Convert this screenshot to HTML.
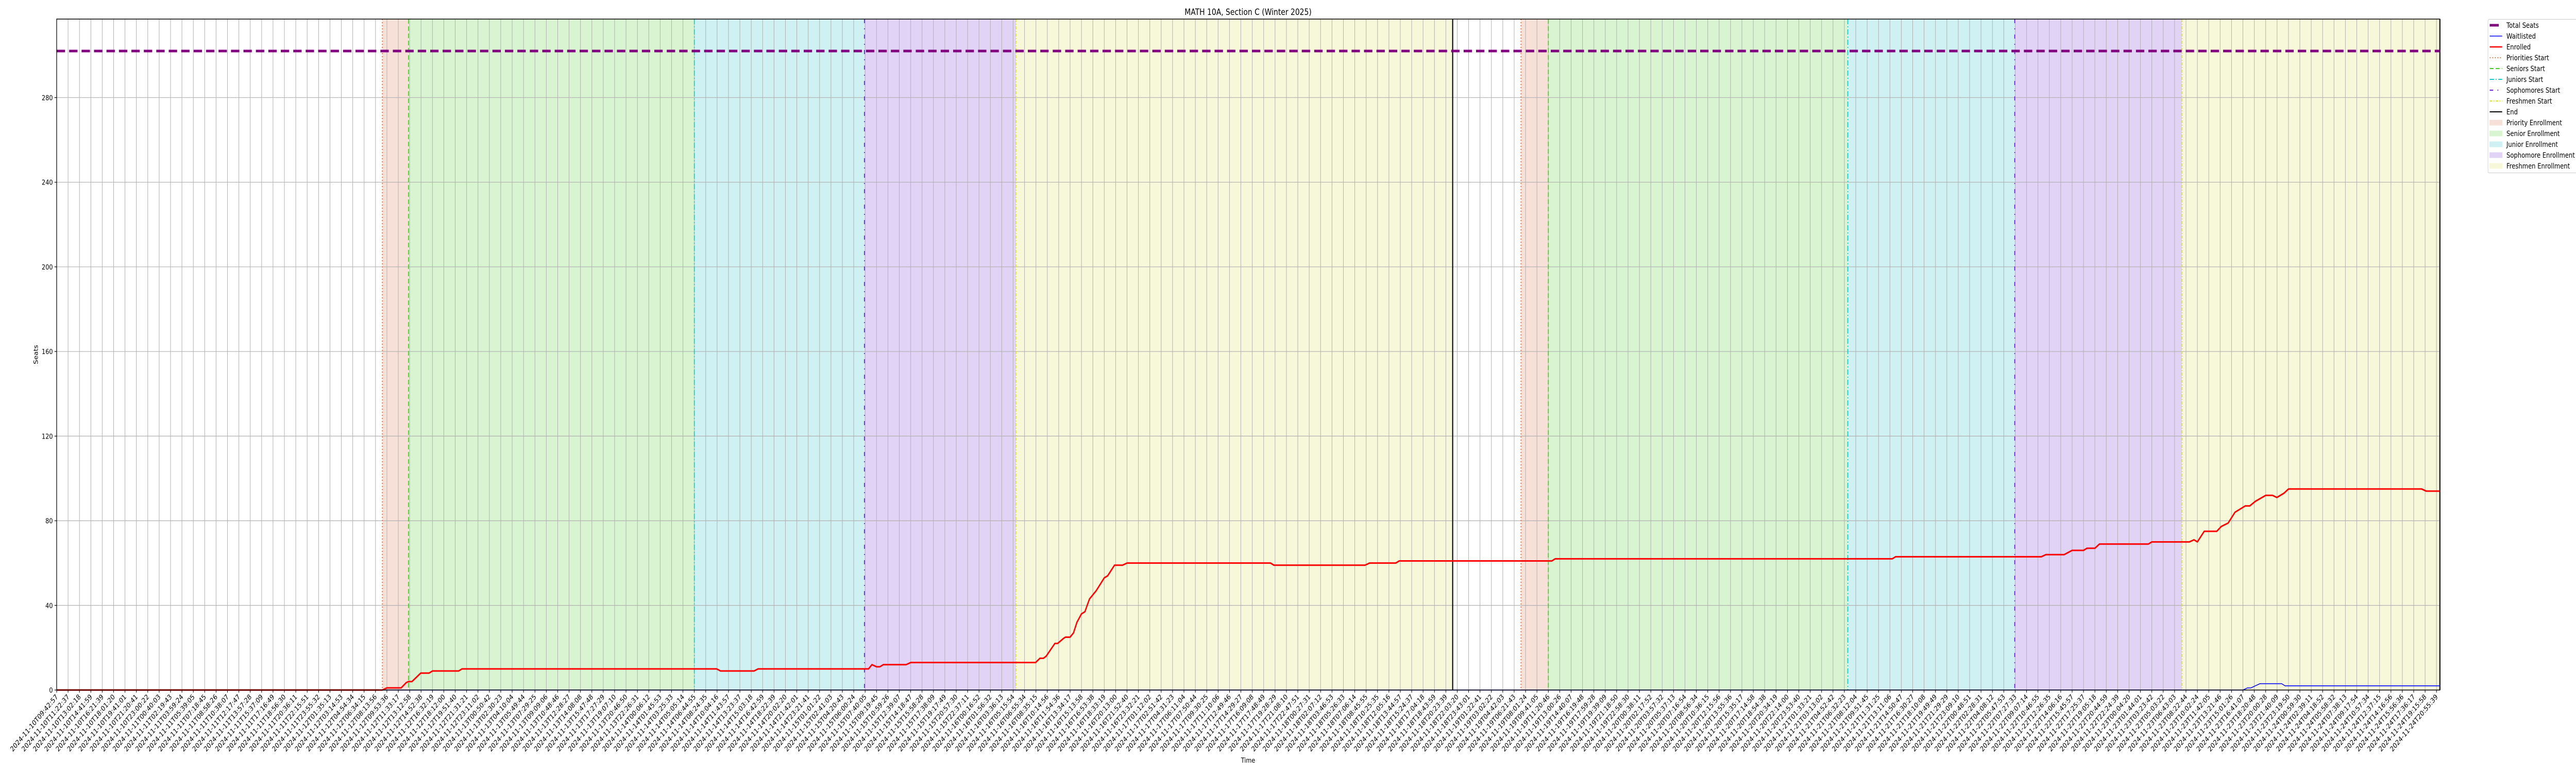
<!DOCTYPE html>
<html><head><meta charset="utf-8"><title>MATH 10A, Section C (Winter 2025)</title>
<style>
html,body{margin:0;padding:0;background:#fff;width:100%;height:100%;overflow:hidden;}
svg{display:block;width:100vw;height:100vh;font-family:"DejaVu Sans","Liberation Sans",sans-serif;}
</style></head>
<body>
<svg id="chart" viewBox="0 0 6000 1500" preserveAspectRatio="none" xmlns="http://www.w3.org/2000/svg">
<rect x="0" y="0" width="6000" height="1500" fill="#fff"/>
<text x="2907" y="29" font-size="16.7" text-anchor="middle">MATH 10A, Section C (Winter 2025)</text>
<g id="fills"></g><g id="grid"></g><g id="vlines"></g><g id="series"></g><g id="axes"></g>
<text x="88" y="688" font-size="13.5" text-anchor="middle" transform="rotate(-90 88 688)">Seats</text>
<text x="2907" y="1480" font-size="13.5" text-anchor="middle">Time</text>
<g id="legend"></g>
</svg>
<script>
// ---- data (x in tick-index units) ----
const startTime = "2024-11-10T09:42:57";
const endTime = "2024-11-24T20:55:39";
const tickCount = 210;
const yTicks = [0, 40, 80, 120, 160, 200, 240, 280];
const totalSeats = 302;
const enrolledX = [0, 28.6, 29.0, 30.25, 30.7, 30.9, 31.2, 31.97, 32.7, 33.0, 35.3, 35.6, 57.96, 58.3, 61.25, 61.6, 71.3, 71.6, 72.0, 72.3, 72.6, 74.6, 75.0, 85.97, 86.35, 86.66, 86.9, 87.66, 87.9, 88.4, 88.6, 89.0, 89.3, 89.6, 90.0, 90.3, 90.7, 91.3, 92.0, 92.3, 92.9, 93.6, 94.0, 106.6, 106.9, 114.9, 115.3, 117.6, 117.9, 131.3, 131.6, 161.2, 161.5, 174.3, 174.7, 176.3, 177.0, 178.0, 178.3, 179.0, 179.4, 183.7, 184.0, 187.3, 187.7, 188.0, 188.6, 189.7, 190.1, 190.7, 191.3, 192.2, 192.6, 193.1, 194.0, 194.6, 194.98, 195.6, 196.0, 207.7, 208.1, 209.3];
const enrolledVals = [0, 0, 1, 1, 3.5, 4, 4, 8, 8, 9, 9, 10, 10, 9, 9, 10, 10, 12, 11, 11, 12, 12, 13, 13, 15, 15, 16, 22, 22, 24.3, 25, 25, 27, 32, 36, 37, 43, 47, 53, 54, 59, 59, 60, 60, 59, 59, 60, 60, 61, 61, 62, 62, 63, 63, 64, 64, 66, 66, 67, 67, 69, 69, 70, 70, 71, 70, 75, 75, 77.3, 78.9, 84, 87, 87, 89.2, 92, 92, 91, 93, 95, 95, 94, 94];
const waitX = [0, 192.0, 192.4, 192.7, 193.1, 193.5, 195.4, 195.7, 209.3];
const waitVals = [0, 0, 1, 1, 2, 3, 3, 2, 2];
const phaseNames = ["Priority", "Senior", "Junior", "Sophomore", "Freshmen"];
const pass1Starts = [28.6, 30.9, 56.0, 70.94, 84.25];
const pass1End = 122.6;
const pass2Starts = [128.6, 131.0, 157.3, 171.96, 186.65];
const pass2End = 209.3;

// ---- styles ----
const fillColors = ["#f7e0d7", "#d9f4d1", "#cff1f3", "#e1d3f5", "#f7f8da"];
const lineColors = ["#f2692e", "#44cc22", "#10c8d0", "#6a22e0", "#e0e030"];
const lineDash = ["2,4", "9,5", "10,4,2,4", "8,10,2,10", "6,3,2,3"];
const PL = 132, PR = 5683, PT = 37, PB = 1339, XMAX = 209.3, YMAX = 317.1;
const sx = v => PL + v * (PR - PL) / XMAX;
const sy = v => PB - v * (PB - PT) / YMAX;
const NS = "http://www.w3.org/2000/svg";
function mk(tag, attrs, parent) {
  const e = document.createElementNS(NS, tag);
  for (const k in attrs) e.setAttribute(k, attrs[k]);
  parent.appendChild(e); return e;
}
const G = id => document.getElementById(id);

// fills
[[pass1Starts, pass1End], [pass2Starts, pass2End]].forEach(([st, en], p) => {
  st.forEach((s, i) => {
    const e = i < st.length - 1 ? st[i + 1] : en;
    const r = mk("rect", {x: sx(s), y: PT, width: sx(e) - sx(s), height: PB - PT, fill: fillColors[i]}, G("fills"));
    
    
  });
});

// grid
for (let i = 0; i < tickCount; i++) {
  const l = mk("line", {x1: sx(i), x2: sx(i), y1: PT, y2: PB, stroke: "#b0b0b0", "stroke-width": 1.2}, G("grid"));
  
  
}
yTicks.forEach(v => {
  const l = mk("line", {x1: PL, x2: PR, y1: sy(v), y2: sy(v), stroke: "#b0b0b0", "stroke-width": 1.2}, G("grid"));
  
  
});

// phase lines
[pass1Starts, pass2Starts].forEach(st => {
  st.forEach((s, i) => {
    const l = mk("line", {x1: sx(s), x2: sx(s), y1: PT, y2: PB, stroke: lineColors[i], "stroke-width": 2, "stroke-dasharray": lineDash[i]}, G("vlines"));
    
    
  });
});
[pass1End, pass2End].forEach(e => {
  const l = mk("line", {x1: sx(e), x2: sx(e), y1: PT, y2: PB, stroke: "#000", "stroke-width": 2.5}, G("vlines"));
  
  
});

// series
const ts = mk("line", {x1: PL, x2: PR, y1: sy(totalSeats), y2: sy(totalSeats), stroke: "#800080", "stroke-width": 5, "stroke-dasharray": "19.5,9.5"}, G("series"));


const wp = mk("polyline", {points: waitX.map((x, i) => sx(x) + "," + sy(waitVals[i])).join(" "), fill: "none", stroke: "#0000ff", "stroke-width": 1.6, "stroke-linejoin": "round"}, G("series"));


const ep = mk("polyline", {points: enrolledX.map((x, i) => sx(x) + "," + sy(enrolledVals[i])).join(" "), fill: "none", stroke: "#ff0000", "stroke-width": 3, "stroke-linejoin": "round"}, G("series"));



// axes
const frame = mk("rect", {x: PL, y: PT, width: PR - PL, height: PB - PT, fill: "none", stroke: "#000", "stroke-width": 1.5}, G("axes"));


yTicks.forEach(v => {
  mk("line", {x1: PL - 5, x2: PL, y1: sy(v), y2: sy(v), stroke: "#000", "stroke-width": 1.2}, G("axes"));
  const t = mk("text", {x: PL - 9, y: sy(v) + 5, "font-size": 13.5, "text-anchor": "end"}, G("axes"));
  t.textContent = v;
  
  
});
const t0 = Date.parse(startTime + "Z"), t1 = Date.parse(endTime + "Z");
const p2 = n => String(n).padStart(2, "0");
for (let i = 0; i < tickCount; i++) {
  const d = new Date(t0 + (t1 - t0) * i / (tickCount - 1));
  const lab = d.getUTCFullYear() + "-" + p2(d.getUTCMonth() + 1) + "-" + p2(d.getUTCDate()) + "T" + p2(d.getUTCHours()) + ":" + p2(d.getUTCMinutes()) + ":" + p2(d.getUTCSeconds());
  const x = sx(i);
  mk("line", {x1: x, x2: x, y1: PB, y2: PB + 5, stroke: "#000", "stroke-width": 1.2}, G("axes"));
  const t = mk("text", {x: x + 4, y: PB + 14, "font-size": 13.8, "text-anchor": "end", transform: "rotate(-45 " + (x + 4) + " " + (PB + 14) + ")"}, G("axes"));
  t.textContent = lab;
  
  
}

// legend
const L = G("legend");
mk("rect", {x: 5795, y: 37.5, width: 215, height: 298, rx: 3, fill: "#fff", stroke: "#cccccc", "stroke-width": 1}, L);
const legendLabels = ["Total Seats", "Waitlisted", "Enrolled", "Priorities Start", "Seniors Start", "Juniors Start", "Sophomores Start", "Freshmen Start", "End", "Priority Enrollment", "Senior Enrollment", "Junior Enrollment", "Sophomore Enrollment", "Freshmen Enrollment"];
legendLabels.forEach((lab, i) => {
  const y = 49 + i * 21;
  const g = mk("g", {}, L);
  
  
  if (i === 0) mk("line", {x1: 5799, x2: 5820, y1: y, y2: y, stroke: "#800080", "stroke-width": 5}, g);
  else if (i === 1) mk("line", {x1: 5799, x2: 5828, y1: y, y2: y, stroke: "#0000ff", "stroke-width": 1.5}, g);
  else if (i === 2) mk("line", {x1: 5799, x2: 5828, y1: y, y2: y, stroke: "#ff0000", "stroke-width": 2.5}, g);
  else if (i < 8) mk("line", {x1: 5799, x2: 5828, y1: y, y2: y, stroke: lineColors[i - 3], "stroke-width": 2, "stroke-dasharray": lineDash[i - 3]}, g);
  else if (i === 8) mk("line", {x1: 5799, x2: 5828, y1: y, y2: y, stroke: "#000", "stroke-width": 2}, g);
  else mk("rect", {x: 5799, y: y - 5, width: 29, height: 10, fill: fillColors[i - 9], stroke: fillColors[i - 9]}, g);
  const t = mk("text", {x: 5838, y: y + 5, "font-size": 13.9}, g);
  t.textContent = lab;
});
</script>
</body></html>
